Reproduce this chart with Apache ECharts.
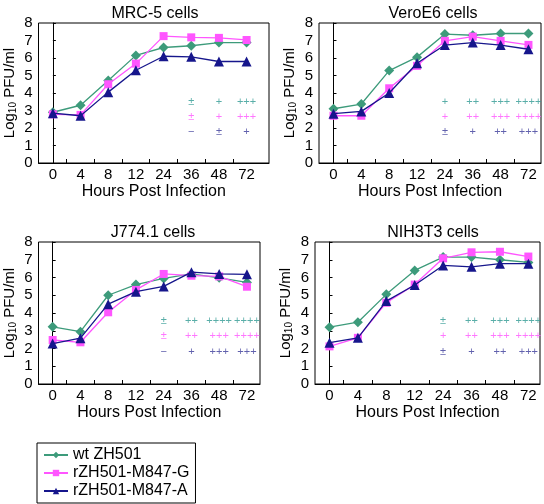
<!DOCTYPE html>
<html><head><meta charset="utf-8">
<script src="https://cdn.jsdelivr.net/npm/echarts@6/dist/echarts.min.js"></script>
<style>html,body{margin:0;padding:0;background:#fff}#c{width:544px;height:504px}</style>
</head><body><div id="c"></div>
<script>
// ---- data ----
const hours = ['0', '4', '8', '12', '24', '36', '48', '72'];
const panelTitles = ['MRC-5 cells', 'VeroE6 cells', 'J774.1 cells', 'NIH3T3 cells'];
const seriesNames = ['wt ZH501', 'rZH501-M847-G', 'rZH501-M847-A'];

const mrcWt = [2.9, 3.3, 4.72, 6.15, 6.6, 6.7, 6.88, 6.88];
const mrcG  = [2.78, 2.75, 4.5, 5.68, 7.25, 7.18, 7.15, 7.03];
const mrcA  = [2.85, 2.7, 4.05, 5.3, 6.1, 6.07, 5.8, 5.8];

const veroWt = [3.1, 3.37, 5.28, 6.05, 7.37, 7.3, 7.4, 7.4];
const veroG  = [2.7, 2.7, 4.27, 5.55, 6.98, 7.22, 6.98, 6.75];
const veroA  = [2.82, 2.95, 4.0, 5.7, 6.74, 6.88, 6.74, 6.5];

const jWt = [3.22, 2.95, 5.0, 5.6, 5.95, 6.2, 5.98, 5.72];
const jG  = [2.48, 2.35, 4.04, 5.3, 6.2, 6.1, 6.06, 5.48];
const jA  = [2.28, 2.58, 4.5, 5.2, 5.5, 6.3, 6.2, 6.18];

const nihWt = [3.2, 3.48, 5.05, 6.4, 7.15, 7.15, 7.0, 6.85];
const nihG  = [2.12, 2.6, 4.58, 5.6, 7.08, 7.42, 7.45, 7.18];
const nihA  = [2.33, 2.6, 4.67, 5.58, 6.68, 6.6, 6.78, 6.78];

// +/- annotations at hours 24, 36, 48, 72
const annHours = ['24', '36', '48', '72'];
const mrcAnnWt = [null, '±', '+', '+++'];
const mrcAnnG  = [null, '±', '+', '+++'];
const mrcAnnA  = [null, '−', '±', '+'];
const veroAnnWt = ['+', '++', '+++', '++++'];
const veroAnnG  = ['+', '++', '+++', '++++'];
const veroAnnA  = ['±', '+', '++', '+++'];
const jAnnWt = ['±', '++', '++++', '++++'];
const jAnnG  = ['±', '++', '+++', '++++'];
const jAnnA  = ['−', '+', '+++', '+++'];
const nihAnnWt = ['±', '++', '+++', '++++'];
const nihAnnG  = ['+', '++', '+++', '++++'];
const nihAnnA  = ['±', '+', '++', '+++'];
const annRowTop = [3.5, 2.65, 1.75];
const annRowBottom = [3.55, 2.7, 1.8];

// ---- chart ----
const FONT = 'Liberation Sans, Arial, sans-serif';
const lineColors = ['#3d9b7b', '#ff55ff', '#16168c'];
const annColors = ['#2f9a92', '#ff55ff', '#3a3a99'];
const symbols = ['diamond', 'rect', 'triangle'];
const symSizes = [10, 8, 10];

const panels = [
  {data: [mrcWt, mrcG, mrcA], ann: [mrcAnnWt, mrcAnnG, mrcAnnA], rows: annRowTop,
   grid: {left: 37, top: 23, width: 232, height: 140}, min: -0.52, max: 7.81, title: [150, 1]},
  {data: [veroWt, veroG, veroA], ann: [veroAnnWt, veroAnnG, veroAnnA], rows: annRowTop,
   grid: {left: 319, top: 23, width: 222, height: 140}, min: -0.52, max: 7.45, title: [428, 1]},
  {data: [jWt, jG, jA], ann: [jAnnWt, jAnnG, jAnnA], rows: annRowBottom,
   grid: {left: 35, top: 242, width: 225, height: 142}, min: -0.51, max: 7.47, title: [148, 220]},
  {data: [nihWt, nihG, nihA], ann: [nihAnnWt, nihAnnG, nihAnnA], rows: annRowBottom,
   grid: {left: 315, top: 242, width: 225, height: 142}, min: -0.51, max: 7.41, title: [428, 220]}
];

const option = {
  animation: false,
  backgroundColor: '#fff',
  textStyle: {fontFamily: FONT},
  title: [], grid: [], xAxis: [], yAxis: [], series: [],
  legend: {
    data: seriesNames, orient: 'vertical', left: 37, top: 443,
    padding: [4, 6, 4, 6], itemGap: 2, itemWidth: 24, itemHeight: 8,
    borderColor: '#000', borderWidth: 1,
    textStyle: {fontSize: 16, color: '#000', fontFamily: FONT}
  }
};

panels.forEach((p, pi) => {
  option.title.push({
    text: panelTitles[pi], left: p.title[0], top: p.title[1], textAlign: 'center',
    textStyle: {fontSize: 16, fontWeight: 'normal', color: '#000', fontFamily: FONT}
  });
  option.grid.push(Object.assign({show: true, borderColor: '#000', borderWidth: 1, backgroundColor: 'transparent'}, p.grid));
  option.xAxis.push({
    type: 'value', gridIndex: pi, min: p.min, max: p.max,
    name: 'Hours Post Infection', nameLocation: 'middle', nameGap: 21,
    nameTextStyle: {fontSize: 16, color: '#000', fontFamily: FONT},
    axisLine: {show: true, onZero: false, lineStyle: {color: '#000', width: 1}},
    axisTick: {show: true, inside: true, length: 4, lineStyle: {color: '#000'},
      customValues: [0.5, 1.5, 2.5, 3.5, 4.5, 5.5, 6.5]},
    axisLabel: {show: true, fontSize: 15, color: '#000', margin: 4, fontFamily: FONT,
      customValues: hours.map((h, i) => i),
      formatter: v => hours[Math.round(v)]},
    splitLine: {show: false}
  });
  option.yAxis.push({
    type: 'value', gridIndex: pi, min: 0, max: 8, interval: 1,
    name: '{a|Log}{s|10}{a| PFU/ml}', nameLocation: 'middle', nameGap: 20, nameRotate: 90,
    nameTextStyle: {color: '#000', fontFamily: FONT,
      rich: {a: {fontSize: 15, fontFamily: FONT, color: '#000', lineHeight: 18},
             s: {fontSize: 10, fontFamily: FONT, color: '#000', lineHeight: 18, padding: [7, 0, 0, 0]}}},
    axisLine: {show: true, lineStyle: {color: '#000', width: 1}},
    axisTick: {show: true, inside: true, length: 3, lineStyle: {color: '#000'}},
    axisLabel: {fontSize: 15, color: '#000', margin: 6, fontFamily: FONT},
    splitLine: {show: false}
  });
  p.data.forEach((vals, si) => {
    option.series.push({
      name: seriesNames[si], type: 'line', xAxisIndex: pi, yAxisIndex: pi,
      data: vals.map((v, i) => [i, v]),
      symbol: symbols[si], symbolSize: symSizes[si],
      lineStyle: {color: lineColors[si], width: 1.3},
      itemStyle: {color: lineColors[si]},
      z: 3 + si
    });
  });
  p.ann.forEach((texts, si) => {
    const d = [];
    texts.forEach((t, k) => { if (t) d.push([hours.indexOf(annHours[k]), p.rows[si], t]); });
    option.series.push({
      type: 'scatter', xAxisIndex: pi, yAxisIndex: pi, symbolSize: 1,
      itemStyle: {color: 'rgba(0,0,0,0)'},
      data: d,
      label: {show: true, position: 'inside', formatter: q => q.data[2],
        fontSize: 11, color: annColors[si], fontFamily: FONT},
      silent: true, z: 2
    });
  });
});

const chart = echarts.init(document.getElementById('c'), null, {renderer: 'canvas'});
chart.setOption(option);
</script>
</body></html>
